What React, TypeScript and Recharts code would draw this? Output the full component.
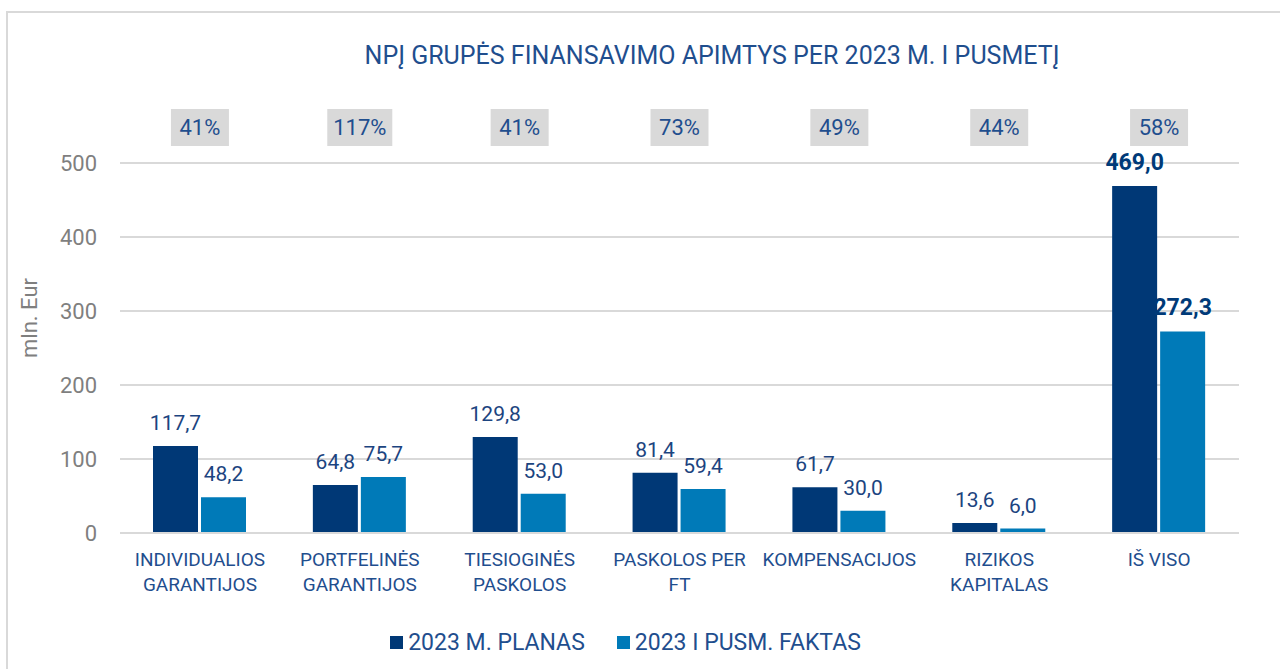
import React from 'react';
import {
  BarChart,
  Bar,
  XAxis,
  YAxis,
  CartesianGrid,
  Legend,
  LabelList,
} from 'recharts';

const categories = [
  'INDIVIDUALIOS\nGARANTIJOS',
  'PORTFELINĖS\nGARANTIJOS',
  'TIESIOGINĖS\nPASKOLOS',
  'PASKOLOS PER\nFT',
  'KOMPENSACIJOS',
  'RIZIKOS\nKAPITALAS',
  'IŠ VISO',
];
const plan = [117.7, 64.8, 129.8, 81.4, 61.7, 13.6, 469.0];
const fact = [48.2, 75.7, 53.0, 59.4, 30.0, 6.0, 272.3];
const percents = ['41%', '117%', '41%', '73%', '49%', '44%', '58%'];
const yTicks = [0, 100, 200, 300, 400, 500];

const data = categories.map((name, i) => ({ name, plan: plan[i], fact: fact[i] }));

const DARK = '#003876';
const LIGHT = '#007AB8';
const TEXT_BLUE = '#1F4E8E';
const LABEL_BLUE = '#1C4480';
const GRID = '#D9D9D9';
const FONT = 'Roboto, sans-serif';

const fmt = (v: number) => v.toFixed(1).replace('.', ',');

const CategoryTick = (props: any) => {
  const { x, y, payload } = props;
  const lines = String(payload.value).split('\n');
  return (
    <text x={x} y={y} textAnchor="middle" fill={TEXT_BLUE} fontSize={19} fontFamily={FONT}>
      {lines.map((l, i) => (
        <tspan key={i} x={x} y={y + 33 + i * 25}>
          {l}
        </tspan>
      ))}
    </text>
  );
};

const PercentTick = (props: any) => {
  const { x, index } = props;
  const label = percents[index];
  const w = label.length > 3 ? 65 : 58;
  return (
    <g>
      <rect x={x - w / 2} y={109} width={w} height={37} fill={GRID} />
      <text x={x} y={135} textAnchor="middle" fill={TEXT_BLUE} fontSize={22} fontFamily={FONT}>
        {label}
      </text>
    </g>
  );
};

const makeLabel = (color: string) => (props: any) => {
  const { x, y, width, value, index } = props;
  const total = index === categories.length - 1;
  return (
    <text
      x={x + width / 2}
      y={y - 16}
      textAnchor="middle"
      fill={total ? '#003A78' : color}
      fontSize={total ? 23 : 21}
      fontWeight={total ? 700 : 400}
      fontFamily={FONT}
    >
      {fmt(value)}
    </text>
  );
};

const LegendContent = () => (
  <div
    style={{
      display: 'flex',
      justifyContent: 'center',
      gap: 32,
      fontFamily: FONT,
      fontSize: 23,
      color: TEXT_BLUE,
      paddingRight: 29,
    }}
  >
    {[
      { c: DARK, t: '2023 M. PLANAS' },
      { c: LIGHT, t: '2023 I PUSM. FAKTAS' },
    ].map((it) => (
      <div key={it.t} style={{ display: 'flex', alignItems: 'center' }}>
        <span style={{ width: 13, height: 13, background: it.c, marginRight: 5, display: 'inline-block' }} />
        <span>{it.t}</span>
      </div>
    ))}
  </div>
);

export default function App() {
  return (
    <div style={{ position: 'absolute', left: 0, top: 0, width: 1280, height: 669, background: '#fff', overflow: 'hidden' }}>
      <div
        style={{
          position: 'absolute',
          left: 6,
          top: 11,
          width: 1290,
          height: 680,
          border: `2px solid ${GRID}`,
        }}
      />
      <div
        style={{
          position: 'absolute',
          left: 0,
          top: 41,
          width: 1424,
          textAlign: 'center',
          fontFamily: FONT,
          fontSize: 25,
          color: TEXT_BLUE,
        }}
      >
        NPĮ GRUPĖS FINANSAVIMO APIMTYS PER 2023 M. I PUSMETĮ
      </div>
      <div style={{ position: 'absolute', left: 0, top: 0 }}>
        <BarChart
          width={1280}
          height={669}
          data={data}
          margin={{ top: 103, right: 41, left: 0, bottom: 76 }}
          barGap={3}
          barSize={45}
        >
          <CartesianGrid horizontal vertical={false} stroke={GRID} strokeWidth={2} />
          <XAxis
            dataKey="name"
            height={60}
            tickLine={false}
            tickSize={0}
            tickMargin={0}
            axisLine={{ stroke: GRID, strokeWidth: 2 }}
            tick={<CategoryTick />}
            interval={0}
          />
          <XAxis
            xAxisId="top"
            dataKey="name"
            orientation="top"
            height={60}
            tickLine={false}
            axisLine={false}
            tick={<PercentTick />}
            interval={0}
          />
          <YAxis
            width={120}
            domain={[0, 500]}
            ticks={yTicks}
            axisLine={false}
            tickLine={false}
            tickSize={0}
            tickMargin={23}
            tick={{ fill: '#7F7F7F', fontSize: 22, fontFamily: FONT }}
            label={() => (
              <text
                x={37}
                y={318}
                transform="rotate(-90 37 318)"
                textAnchor="middle"
                fill="#7F7F7F"
                fontSize={22}
                fontFamily={FONT}
              >
                mln. Eur
              </text>
            )}
          />
          <Legend
            layout="horizontal"
            verticalAlign="middle"
            align="center"
            content={<LegendContent />}
            wrapperStyle={{ top: 629, left: 0, width: 1280 }}
          />
          <Bar dataKey="plan" name="2023 M. PLANAS" fill={DARK} isAnimationActive={false}>
            <LabelList dataKey="plan" content={makeLabel(LABEL_BLUE)} />
          </Bar>
          <Bar dataKey="fact" name="2023 I PUSM. FAKTAS" fill={LIGHT} isAnimationActive={false}>
            <LabelList dataKey="fact" content={makeLabel(LABEL_BLUE)} />
          </Bar>
        </BarChart>
      </div>
    </div>
  );
}
